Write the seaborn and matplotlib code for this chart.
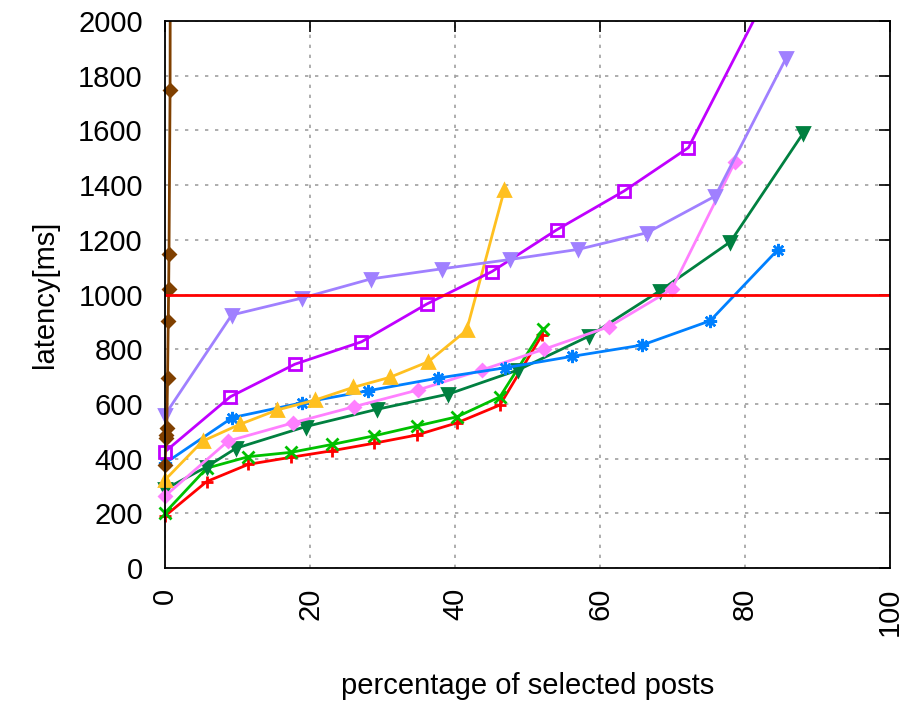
import numpy as np
import pandas as pd
import matplotlib
matplotlib.use("Agg")
import matplotlib.pyplot as plt
import seaborn as sns

# --- data (x: % of selected posts, y: latency in ms) ---
red_x = [0.0, 5.75, 11.5, 17.4, 23.1, 28.8, 34.7, 40.3, 46.2, 52.0]
red_y = [190, 316, 379, 405, 429, 456, 486, 531, 596, 852]

green_x = [0.0, 5.75, 11.5, 17.4, 23.1, 28.8, 34.7, 40.3, 46.2, 52.1]
green_y = [202, 365, 407, 423, 452, 483, 519, 553, 626, 873]

dkgreen_x = [0.0, 5.75, 9.8, 19.4, 29.2, 39.1, 48.7, 58.5, 68.3, 78.0, 88.0]
dkgreen_y = [288, 370, 438, 517, 580, 636, 724, 848, 1014, 1193, 1589]

pink_x = [0.0, 8.7, 17.7, 26.1, 34.9, 43.7, 52.3, 61.2, 69.9, 78.6]
pink_y = [263, 464, 531, 590, 651, 724, 800, 882, 1019, 1484]

blue_x = [0.0, 9.3, 18.9, 28.0, 37.6, 46.9, 56.2, 65.8, 75.2, 84.5]
blue_y = [383, 550, 604, 648, 694, 732, 774, 815, 904, 1163]

orange_x = [0.0, 5.2, 10.3, 15.5, 20.7, 25.9, 31.0, 36.3, 41.6, 46.8]
orange_y = [322, 464, 525, 578, 614, 660, 697, 754, 869, 1382]

purple_x = [0.0, 9.0, 17.9, 27.1, 36.1, 45.1, 54.0, 63.3, 72.2, 82.0]
purple_y = [425, 626, 745, 827, 965, 1084, 1236, 1378, 1537, 2043]

lavender_x = [0.0, 9.2, 18.9, 28.4, 38.2, 47.6, 57.0, 66.5, 75.9, 85.7]
lavender_y = [560, 925, 987, 1057, 1094, 1128, 1165, 1226, 1360, 1866]

brown_x = [0.0, 0.15, 0.2, 0.25, 0.35, 0.45, 0.5, 0.55, 0.7, 0.75]
brown_y = [377, 474, 486, 511, 694, 903, 1019, 1147, 1748, 2600]

threshold = 1000

series = [
    ("red", red_x, red_y, "#ff0000", "+", "full"),
    ("green", green_x, green_y, "#00c000", "x", "full"),
    ("dkgreen", dkgreen_x, dkgreen_y, "#008040", "v", "full"),
    ("pink", pink_x, pink_y, "#ff80ff", "D", "full"),
    ("blue", blue_x, blue_y, "#0080ff", (8, 2, 0), "full"),
    ("orange", orange_x, orange_y, "#ffc020", "^", "full"),
    ("purple", purple_x, purple_y, "#c000ff", "s", "none"),
    ("lavender", lavender_x, lavender_y, "#a080ff", "v", "full"),
    ("brown", brown_x, brown_y, "#804000", "D", "full"),
]

sns.set_style("white")
plt.rcParams["font.family"] = ["Liberation Sans", "DejaVu Sans"]
plt.rcParams["text.color"] = "black"
plt.rcParams["axes.labelcolor"] = "black"

fig = plt.figure(figsize=(9.12, 7.01), dpi=100)
ax = fig.add_axes([165 / 912, 1 - 568 / 701, 725 / 912, 547 / 701])

for name, xs, ys, col, mk, fill in series:
    df = pd.DataFrame({"x": xs, "y": ys})
    # line, clipped to the frame
    sns.lineplot(data=df, x="x", y="y", ax=ax, color=col, linewidth=2,
                 sort=False, estimator=None, legend=False)
    # point marks, not clipped (gnuplot draws them over the border)
    pts = df[(df.y <= 2000) & (df.x <= 100)]
    ms = 6.5 if mk == "D" else 8.5
    if mk in ("+", "x", "s"):
        ms = 8
    mew = 2
    if name == "blue":
        ms, mew = 9.5, 1.8
    kw = dict(markerfacecolor="none") if fill == "none" else {}
    sns.lineplot(data=pts, x="x", y="y", ax=ax, color=col, marker=mk,
                 markersize=ms, markeredgecolor=col, markeredgewidth=mew,
                 linestyle="none", sort=False, estimator=None, legend=False,
                 clip_on=False, **kw)

ax.axhline(threshold, color="#ff0000", linewidth=2)

ax.set_xlim(0, 100)
ax.set_ylim(0, 2000)
ax.set_xticks(np.arange(0, 101, 20))
ax.set_yticks(np.arange(0, 2001, 200))
ax.grid(True, color="#a0a0a0", linestyle=(0, (2, 4)), linewidth=1.2)
ax.tick_params(direction="in", length=8, width=1.2, top=True, right=True,
               labelsize=21, colors="black")
ax.tick_params(axis="x", labelrotation=90, pad=14)
ax.tick_params(axis="y", pad=16)
for sp in ax.spines.values():
    sp.set_color("black")
    sp.set_linewidth(1.3)

ax.set_xlabel("percentage of selected posts", fontsize=21, labelpad=26)
ax.set_ylabel("latency[ms]", fontsize=21, labelpad=14)

fig.savefig("out.png", dpi=100)
